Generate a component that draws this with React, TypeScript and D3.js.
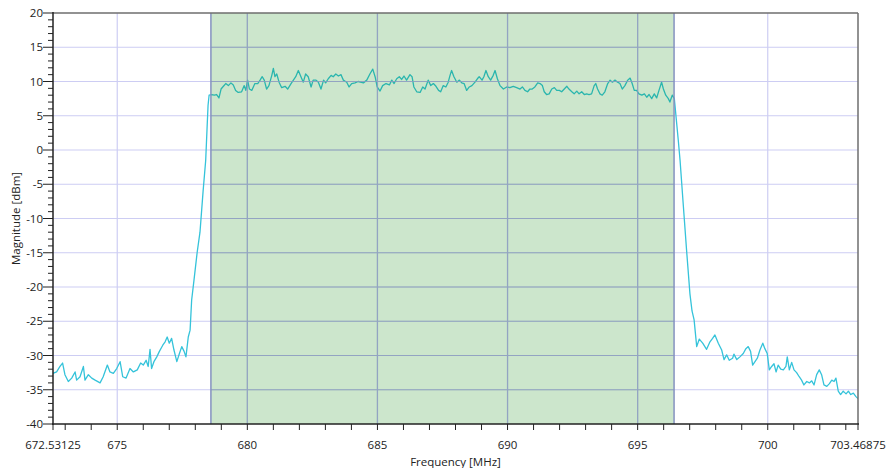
import React from "react";
import * as d3 from "d3";

// ---- data ----
const FREQ_MHZ = [
  672.53, 672.67, 672.80, 672.90, 672.99, 673.12, 673.25, 673.38, 673.44, 673.57,
  673.70, 673.76, 673.89, 674.02, 674.15, 674.34, 674.46, 674.62, 674.72, 674.85,
  674.98, 675.11, 675.21, 675.34, 675.49, 675.62, 675.77, 675.90, 676.00, 676.11,
  676.19, 676.26, 676.32, 676.41, 676.52, 676.62, 676.75, 676.84, 676.92, 677.00,
  677.09, 677.18, 677.29, 677.39, 677.48, 677.57, 677.64, 677.73, 677.80, 677.86,
  677.95, 678.07, 678.18, 678.30, 678.40, 678.45, 678.49, 678.53,
  678.63, 678.73, 678.82, 678.91, 678.99, 679.08, 679.17, 679.27, 679.37, 679.46,
  679.55, 679.65, 679.78, 679.88, 679.94, 680.01, 680.08, 680.17, 680.29, 680.40,
  680.49, 680.57, 680.65, 680.74, 680.83, 680.94, 681.00, 681.06, 681.13, 681.22,
  681.32, 681.45, 681.55, 681.68, 681.77, 681.86, 681.96, 682.06, 682.15, 682.24,
  682.34, 682.45, 682.53, 682.64, 682.73, 682.83, 682.93, 683.01, 683.11, 683.22,
  683.30, 683.40, 683.50, 683.60, 683.69, 683.82, 683.91, 684.01, 684.14, 684.26,
  684.46, 684.59, 684.71, 684.82, 684.91, 684.99, 685.10, 685.20, 685.33, 685.46,
  685.55, 685.64, 685.74, 685.84, 685.93, 686.02, 686.12, 686.25, 686.33, 686.40,
  686.51, 686.64, 686.74, 686.83, 686.95, 687.05, 687.15, 687.25, 687.35, 687.43,
  687.53, 687.63, 687.72, 687.79, 687.85, 687.94, 688.05, 688.15, 688.24, 688.33,
  688.43, 688.53, 688.63, 688.75, 688.84, 688.91, 689.02, 689.09, 689.17, 689.26,
  689.35, 689.45, 689.52, 689.61, 689.71, 689.84, 689.97, 690.09, 690.22, 690.35,
  690.48, 690.57, 690.67, 690.77, 690.86, 690.95, 691.05, 691.16, 691.25, 691.34,
  691.41, 691.50, 691.60, 691.70, 691.80, 691.89, 691.99, 692.08, 692.18, 692.28,
  692.36, 692.47, 692.56, 692.66, 692.75, 692.85, 692.95, 693.04, 693.13, 693.23,
  693.33, 693.39, 693.46, 693.55, 693.64, 693.74, 693.85, 693.94, 694.03, 694.13,
  694.23, 694.32, 694.41, 694.51, 694.62, 694.71, 694.79, 694.87, 694.96, 695.05,
  695.16, 695.26, 695.35, 695.44, 695.54, 695.64, 695.73, 695.82, 695.92, 695.99,
  696.08, 696.18, 696.24, 696.33, 696.41,
  696.56, 696.63, 696.74, 696.88, 697.01, 697.09, 697.17, 697.27, 697.37, 697.50,
  697.65, 697.78, 697.88, 697.97, 698.10, 698.23, 698.32, 698.42, 698.52, 698.65,
  698.70, 698.81, 698.93, 699.06, 699.16, 699.25, 699.34, 699.42, 699.51, 699.60,
  699.70, 699.81, 699.89, 699.98, 700.06, 700.15, 700.24, 700.32, 700.40, 700.50,
  700.60, 700.70, 700.75, 700.83, 700.92, 701.01, 701.11, 701.21, 701.30, 701.39,
  701.50, 701.60, 701.69, 701.78, 701.88, 701.98, 702.07, 702.16, 702.27, 702.37,
  702.46, 702.55, 702.62, 702.71, 702.80, 702.90, 703.01, 703.10, 703.19, 703.29,
  703.39, 703.47,
];

const MAG_DBM = [
  -32.6, -32.4, -31.6, -31.1, -32.8, -33.8, -33.3, -32.4, -33.6, -33.1,
  -31.6, -33.6, -32.8, -33.3, -33.6, -34.0, -33.1, -31.4, -32.4, -32.6,
  -31.9, -30.9, -33.1, -33.3, -31.9, -32.4, -32.1, -31.1, -31.4, -30.7,
  -31.6, -29.1, -31.9, -30.9, -30.2, -29.4, -28.5, -28.0, -27.3, -28.2,
  -27.5, -29.2, -30.9, -29.7, -28.7, -29.4, -30.2, -27.3, -26.3, -21.9,
  -19.0, -15.0, -12.0, -6.0, -1.5, 3.0, 6.5, 8.0,
  8.1, 8.0, 8.1, 7.6, 8.9, 9.3, 9.7, 9.4, 9.8, 9.5,
  8.7, 8.4, 8.5, 9.4, 8.7, 10.2, 8.9, 8.7, 9.7, 9.7,
  10.2, 10.7, 10.2, 8.9, 9.4, 10.9, 11.9, 10.7, 11.1, 9.9,
  9.1, 9.3, 8.9, 9.7, 10.2, 10.7, 11.6, 10.7, 9.9, 11.1,
  10.7, 9.2, 10.2, 10.2, 9.9, 8.9, 10.2, 9.8, 10.4, 10.9,
  10.7, 11.1, 10.8, 11.0, 10.2, 9.9, 9.2, 9.7, 9.8, 10.0,
  9.8, 10.2, 11.1, 11.8, 10.7, 9.2, 8.6, 9.4, 9.7, 9.5,
  10.2, 9.7, 10.4, 10.7, 10.3, 10.8, 10.2, 11.0, 10.7, 9.2,
  8.5, 8.4, 9.2, 8.9, 10.2, 9.4, 9.7, 9.3, 8.7, 8.5,
  9.4, 9.2, 9.9, 10.9, 11.6, 10.7, 9.9, 10.2, 9.8, 9.7,
  8.7, 9.2, 9.4, 9.9, 10.4, 10.7, 10.2, 10.7, 11.6, 10.7,
  10.2, 10.9, 11.6, 10.4, 9.4, 8.9, 9.2, 9.1, 9.3, 9.1,
  8.9, 9.2, 8.7, 8.5, 8.9, 8.9, 9.2, 9.8, 9.7, 9.4,
  8.5, 8.1, 8.2, 8.9, 9.1, 8.7, 8.7, 8.5, 8.9, 9.3,
  8.9, 8.5, 8.2, 8.6, 8.2, 8.5, 8.1, 8.2, 8.1, 8.2,
  9.4, 9.7, 8.9, 8.2, 8.0, 8.5, 9.7, 10.2, 9.9, 10.2,
  9.9, 9.7, 8.9, 9.4, 10.2, 10.5, 9.7, 8.7, 8.7, 8.2,
  8.0, 8.2, 7.7, 8.1, 7.5, 8.2, 7.6, 8.7, 9.9, 8.9,
  8.0, 7.5, 7.0, 8.0, 7.5,
  1.5, -1.5, -7.3, -14.6, -21.0, -23.5, -24.8, -28.7, -27.6, -28.2,
  -29.1, -28.0, -27.5, -27.0, -28.2, -29.2, -30.6, -29.9, -30.7, -30.4,
  -29.8, -30.6, -30.2, -29.7, -29.0, -28.7, -29.4, -31.4, -30.9, -30.4,
  -29.2, -28.2, -29.0, -29.7, -32.1, -31.6, -31.2, -32.4, -31.4, -32.0,
  -32.1, -31.6, -30.2, -32.1, -31.0, -32.1, -32.5, -33.1, -33.6, -34.3,
  -33.8, -34.0, -33.7, -34.3, -32.8, -32.1, -32.8, -34.3, -34.5, -34.1,
  -33.6, -33.8, -33.3, -35.2, -35.7, -35.2, -35.6, -35.2, -35.7, -35.5,
  -36.0, -36.3,
];

const X_DOMAIN = [672.53125, 703.46875];
const Y_DOMAIN = [-40, 20];
const X_MAJOR_TICKS = [675, 680, 685, 690, 695, 700];
const X_EDGE_LABELS = ["672.53125", "703.46875"];
const Y_MAJOR_TICKS = [-40, -35, -30, -25, -20, -15, -10, -5, 0, 5, 10, 15, 20];
const BAND_MHZ = [678.6, 696.4];
const X_TITLE = "Frequency [MHz]";
const Y_TITLE = "Magnitude [dBm]";

const W = 886;
const H = 468;
const M = { left: 53, right: 28, top: 13, bottom: 44 };
const FONT = "'Open Sans', 'Noto Sans', sans-serif";

export default function App() {
  const x = d3.scaleLinear().domain(X_DOMAIN).range([M.left, W - M.right]);
  const y = d3.scaleLinear().domain(Y_DOMAIN).range([H - M.bottom, M.top]);
  const x0 = M.left, x1 = W - M.right, y0 = M.top, y1 = H - M.bottom;

  const pts = FREQ_MHZ.map((f, i) => [f, MAG_DBM[i]] as [number, number]);
  const line = d3
    .line<[number, number]>()
    .x((d) => x(d[0]))
    .y((d) => y(d[1]));

  const xMinor = d3.range(673, 704, 1);
  const yMinor = d3.range(-40, 21, 1);
  const bx0 = x(BAND_MHZ[0]);
  const bx1 = x(BAND_MHZ[1]);

  const gridH = Y_MAJOR_TICKS.filter((v) => v > -40 && v < 20);

  return (
    <svg
      width={W}
      height={H}
      style={{ position: "absolute", left: 0, top: 0, background: "#fff" }}
      fontFamily={FONT}
    >
      <rect x={0} y={0} width={W} height={H} fill="#fff" />
      <defs>
        <clipPath id="plot">
          <rect x={x0} y={y0} width={x1 - x0} height={y1 - y0} />
        </clipPath>
        <clipPath id="band">
          <rect x={bx0} y={y0} width={bx1 - bx0} height={y1 - y0} />
        </clipPath>
      </defs>

      {/* grid */}
      <g stroke="#cdcdf3" strokeWidth={1.2}>
        {gridH.map((v) => (
          <line key={"gh" + v} x1={x0} x2={x1} y1={y(v)} y2={y(v)} />
        ))}
        {X_MAJOR_TICKS.map((v) => (
          <line key={"gv" + v} x1={x(v)} x2={x(v)} y1={y0} y2={y1} />
        ))}
      </g>

      {/* trace */}
      <g clipPath="url(#plot)">
        <path d={line(pts) || ""} fill="none" stroke="#35c3da" strokeWidth={1.3} strokeLinejoin="round" />
      </g>

      {/* band overlay */}
      <rect x={bx0} y={y0} width={bx1 - bx0} height={y1 - y0} fill="rgba(0,128,0,0.2)" />
      <g clipPath="url(#band)" stroke="#8e9cc2" strokeWidth={1.2} opacity={0.75}>
        {gridH.map((v) => (
          <line key={"bh" + v} x1={x0} x2={x1} y1={y(v)} y2={y(v)} />
        ))}
        {X_MAJOR_TICKS.map((v) => (
          <line key={"bv" + v} x1={x(v)} x2={x(v)} y1={y0} y2={y1} />
        ))}
      </g>
      <g stroke="#8592c0" strokeWidth={1.5}>
        <line x1={bx0} x2={bx0} y1={y0} y2={y1} />
        <line x1={bx1} x2={bx1} y1={y0} y2={y1} />
      </g>

      {/* frame */}
      <line x1={x0} x2={x1} y1={y0} y2={y0} stroke="#6e6e6e" strokeWidth={1.5} />
      <line x1={x1} x2={x1} y1={y0} y2={y1} stroke="#6e6e6e" strokeWidth={1.5} />
      <line x1={x0} x2={x0} y1={y0 - 1} y2={y1 + 1} stroke="#222" strokeWidth={1.5} />
      <line x1={x0 - 1} x2={x1 + 1} y1={y1} y2={y1} stroke="#222" strokeWidth={1.5} />

      {/* y ticks */}
      <g stroke="#222" strokeWidth={1}>
        {yMinor.map((v) => (
          <line key={"ym" + v} x1={x0 - (v % 5 === 0 ? 10 : 5)} x2={x0} y1={y(v)} y2={y(v)} />
        ))}
      </g>
      <g fontSize={11.5} fill="#222" textAnchor="end">
        {Y_MAJOR_TICKS.map((v) => (
          <text key={"yl" + v} x={x0 - 10} y={y(v)} dy="0.35em">
            {v}
          </text>
        ))}
      </g>

      {/* x ticks */}
      <g stroke="#222" strokeWidth={1}>
        {[...xMinor, ...X_DOMAIN].map((v, i) => (
          <line key={"xm" + i} x1={x(v)} x2={x(v)} y1={y1} y2={y1 + 6} />
        ))}
      </g>
      <g fontSize={11.5} fill="#222" textAnchor="middle">
        {X_MAJOR_TICKS.map((v) => (
          <text key={"xl" + v} x={x(v)} y={y1 + 25}>
            {v}
          </text>
        ))}
        <text x={x(X_DOMAIN[0])} y={y1 + 25}>{X_EDGE_LABELS[0]}</text>
        <text x={x(X_DOMAIN[1])} y={y1 + 25}>{X_EDGE_LABELS[1]}</text>
      </g>

      {/* titles */}
      <text x={(x0 + x1) / 2} y={H - 2} fontSize={11.5} fill="#222" textAnchor="middle">
        {X_TITLE}
      </text>
      <text
        transform={`translate(20, ${(y0 + y1) / 2}) rotate(-90)`}
        fontSize={11.5}
        fill="#222"
        textAnchor="middle"
      >
        {Y_TITLE}
      </text>
    </svg>
  );
}
